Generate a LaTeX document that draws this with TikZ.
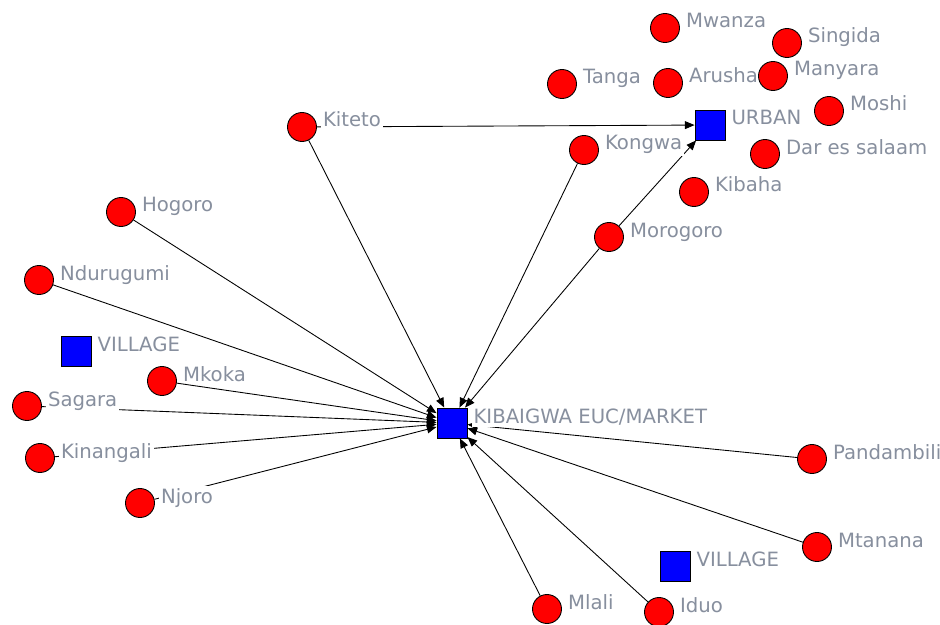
\documentclass[tikz,border=0pt]{standalone}
\usepackage{fontspec}
\setmainfont{DejaVu Sans}
\usetikzlibrary{arrows.meta}
\pgfdeclarelayer{flows}
\pgfdeclarelayer{names}
\pgfsetlayers{flows,names,main}
\definecolor{nwred}{RGB}{255,0,0}
\definecolor{nwblue}{RGB}{0,0,255}
\definecolor{nwtext}{RGB}{135,143,158}
\tikzset{
  nwsite/.style={circle, draw, fill=nwred, minimum size=0.58cm,
                 inner sep=0pt, line width=0.5pt},
  nwhub/.style={rectangle, draw, fill=nwblue, minimum size=0.6cm,
                inner sep=0pt, line width=0.5pt},
  nwname/.style={anchor=base west, fill=white, inner sep=1pt,
                 text=nwtext, font=\fontsize{11.2}{13}\selectfont},
  nwflow/.style={draw, line width=0.5pt,
                 -{Triangle[length=5.5pt, width=4.5pt]}}
}

\begin{document}
\begin{tikzpicture}[x=0.02cm, y=-0.02cm]
  \useasboundingbox (0,0) rectangle (940,625);
  % collection points and markets
  \foreach \n/\x/\y in {urban/710/125, market/452/423,
      villw/76/351, ville/675/566} {
    \node[nwhub] (\n) at (\x,\y) {};
  }
  % sites
  \foreach \n/\x/\y in {
      mwanza/665/28, singida/787/43, tanga/562/84, arusha/668/83,
      manyara/773/76, moshi/829/111, kongwa/584/150, dar/765/154,
      kibaha/694/192, kiteto/302/127, hogoro/121/212, morogoro/609/237,
      ndurugumi/39/280, mkoka/162/381, sagara/27/406, kinangali/40/458,
      njoro/140/503, pandambili/812/459, mtanana/817/547, mlali/547/609,
      iduo/659/612} {
    \node[nwsite] (\n) at (\x,\y) {};
  }
  % names
  \begin{pgfonlayer}{names}
    \foreach \n/\t in {
        urban/URBAN, market/{KIBAIGWA EUC/MARKET},
        villw/VILLAGE, ville/VILLAGE,
        mwanza/Mwanza, singida/Singida, tanga/Tanga, arusha/Arusha,
        manyara/Manyara, moshi/Moshi, kongwa/Kongwa, dar/Dar es salaam,
        kibaha/Kibaha, kiteto/Kiteto, hogoro/Hogoro, morogoro/Morogoro,
        ndurugumi/Ndurugumi, mkoka/Mkoka, sagara/Sagara,
        kinangali/Kinangali, njoro/Njoro, pandambili/Pandambili,
        mtanana/Mtanana, mlali/Mlali, iduo/Iduo} {
      \node[nwname] (\n-t) at ([xshift=0.08cm]\n.east) {\t};
    }
  \end{pgfonlayer}
  % flows
  \begin{pgfonlayer}{flows}
    \foreach \s in {kiteto, hogoro, ndurugumi, mkoka, sagara, kinangali,
        njoro, mlali, iduo, mtanana, pandambili, morogoro, kongwa}
      \draw[nwflow] (\s) -- (market);
    \foreach \s in {kiteto, morogoro}
      \draw[nwflow] (\s) -- (urban);
  \end{pgfonlayer}
\end{tikzpicture}
\end{document}
